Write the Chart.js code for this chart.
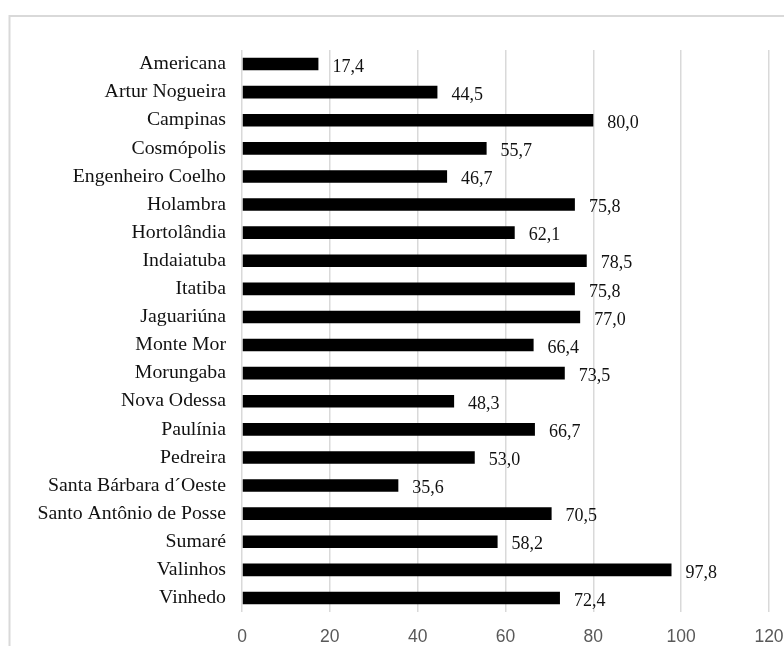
<!DOCTYPE html>
<html>
<head>
<meta charset="utf-8">
<title>Municípios</title>
<script src="https://cdn.jsdelivr.net/npm/chart.js"></script>
<style>
  html, body { margin: 0; padding: 0; background: #fff; }
  canvas { display: block; }
</style>
</head>
<body>
<canvas id="cityChart" width="784" height="646"></canvas>
<script>
const cities = [
  'Americana', 'Artur Nogueira', 'Campinas', 'Cosmópolis', 'Engenheiro Coelho',
  'Holambra', 'Hortolândia', 'Indaiatuba', 'Itatiba', 'Jaguariúna',
  'Monte Mor', 'Morungaba', 'Nova Odessa', 'Paulínia', 'Pedreira',
  'Santa Bárbara d´Oeste', 'Santo Antônio de Posse', 'Sumaré', 'Valinhos', 'Vinhedo'
];
const values = [
  17.4, 44.5, 80.0, 55.7, 46.7,
  75.8, 62.1, 78.5, 75.8, 77.0,
  66.4, 73.5, 48.3, 66.7, 53.0,
  35.6, 70.5, 58.2, 97.8, 72.4
];
const xTicks = [0, 20, 40, 60, 80, 100, 120];

// light grey frame around the whole figure
const framePlugin = {
  id: 'frame',
  beforeDraw(chart) {
    const ctx = chart.ctx;
    ctx.save();
    ctx.fillStyle = '#fff';
    ctx.fillRect(0, 0, chart.width, chart.height);
    ctx.strokeStyle = '#d9d9d9';
    ctx.lineWidth = 2;
    ctx.strokeRect(9.5, 16, 820, 700);
    ctx.restore();
  }
};

// value written after the end of each bar, with decimal comma
const valueLabels = {
  id: 'valueLabels',
  afterDatasetsDraw(chart) {
    const ctx = chart.ctx;
    const meta = chart.getDatasetMeta(0);
    ctx.save();
    ctx.font = '18px "Liberation Serif", serif';
    ctx.fillStyle = '#111';
    ctx.textAlign = 'left';
    ctx.textBaseline = 'middle';
    meta.data.forEach((bar, i) => {
      const text = values[i].toFixed(1).replace('.', ',');
      ctx.fillText(text, bar.x + 14, bar.y + 3);
    });
    ctx.restore();
  }
};

const ctx = document.getElementById('cityChart').getContext('2d');

new Chart(ctx, {
  type: 'bar',
  data: {
    labels: cities,
    datasets: [{
      data: values,
      backgroundColor: '#000',
      barPercentage: 0.45,
      categoryPercentage: 1.0
    }]
  },
  options: {
    indexAxis: 'y',
    responsive: false,
    animation: false,
    devicePixelRatio: 1,
    layout: {
      padding: { top: 50, right: 15, bottom: 0, left: 0 }
    },
    plugins: {
      legend: { display: false },
      tooltip: { enabled: false }
    },
    scales: {
      x: {
        min: 0,
        max: 120,
        afterFit(scale) {
          scale.height = 34;
          // the last tick label may spill into the right margin
          scale.paddingLeft = 0;
          scale.paddingRight = 0;
        },
        afterBuildTicks(scale) { scale.ticks = xTicks.map(v => ({ value: v })); },
        border: { display: false },
        grid: { color: '#d9d9d9', lineWidth: 1.5, drawTicks: false },
        ticks: {
          padding: 15,
          color: '#595959',
          font: { family: '"Liberation Sans", sans-serif', size: 17.5 }
        }
      },
      y: {
        afterFit(scale) { scale.width = 242; },
        border: { display: false },
        grid: { display: false, drawTicks: false },
        ticks: {
          padding: 16,
          color: '#111',
          font: { family: '"Liberation Serif", serif', size: 19.8 }
        }
      }
    }
  },
  plugins: [framePlugin, valueLabels]
});
</script>
</body>
</html>
